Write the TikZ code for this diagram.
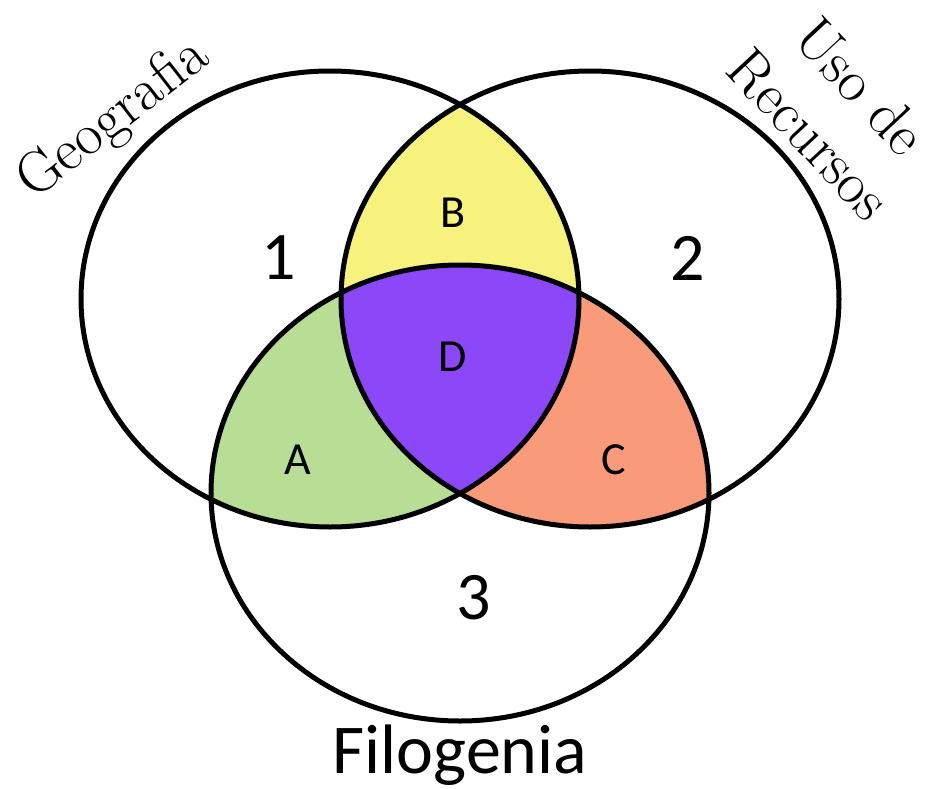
\documentclass[tikz,border=0pt]{standalone}
\usepackage{fontspec}
\newfontfamily\calib{Carlito}
\usetikzlibrary{shapes.geometric}
\definecolor{cyel}{HTML}{F7F27D}
\definecolor{cpur}{HTML}{8B47F8}
\definecolor{cgrn}{HTML}{B8DD95}
\definecolor{corg}{HTML}{F99B7A}
\begin{document}
\begin{tikzpicture}[x=1pt,y=-1pt,
  ring/.style={draw=black,line width=5pt,ellipse,minimum width=498pt,minimum height=456pt,inner sep=0pt,outer sep=0pt},
  numlab/.style={font=\calib\fontsize{68}{72}\selectfont,inner sep=0pt},
  letlab/.style={font=\calib\fontsize{46}{50}\selectfont,inner sep=0pt},
  setlab/.style={font=\rmfamily\fontsize{59}{70}\selectfont,inner sep=0pt}]
\useasboundingbox (0,0) rectangle (932,789);
\def\rx{249}\def\ry{228}
% fills
\begin{scope}
  \clip (330,299) ellipse [x radius=\rx, y radius=\ry];
  \fill[cyel] (590,299) ellipse [x radius=\rx, y radius=\ry];
  \fill[cgrn] (460,493) ellipse [x radius=\rx, y radius=\ry];
\end{scope}
\begin{scope}
  \clip (590,299) ellipse [x radius=\rx, y radius=\ry];
  \fill[corg] (460,493) ellipse [x radius=\rx, y radius=\ry];
\end{scope}
\begin{scope}
  \clip (330,299) ellipse [x radius=\rx, y radius=\ry];
  \clip (590,299) ellipse [x radius=\rx, y radius=\ry];
  \fill[cpur] (460,493) ellipse [x radius=\rx, y radius=\ry];
\end{scope}
% outlines
\node[ring] (geo) at (330,299) {};
\node[ring] (rec) at (590,299) {};
\node[ring] (fil) at (460,493) {};
% labels
\node[numlab] (n1) at (279,258) {1};
\node[numlab] (n2) at (688,258) {2};
\node[numlab] (n3) at (474,598) {3};
\node[letlab] (lb) at (453,213) {B};
\node[letlab] (ld) at (453,357) {D};
\node[letlab] (la) at (298,460) {A};
\node[letlab] (lc) at (614,460) {C};
\node[setlab,rotate=38] (tgeo) at (114,120) {Geografia};
\node[setlab,rotate=-47,align=center] (trec) at (835,110) {Uso de\\Recursos};
\node[font=\calib\fontsize{70}{74}\selectfont,inner sep=0pt] (tfil) at (460,755) {Filogenia};
\end{tikzpicture}
\end{document}
